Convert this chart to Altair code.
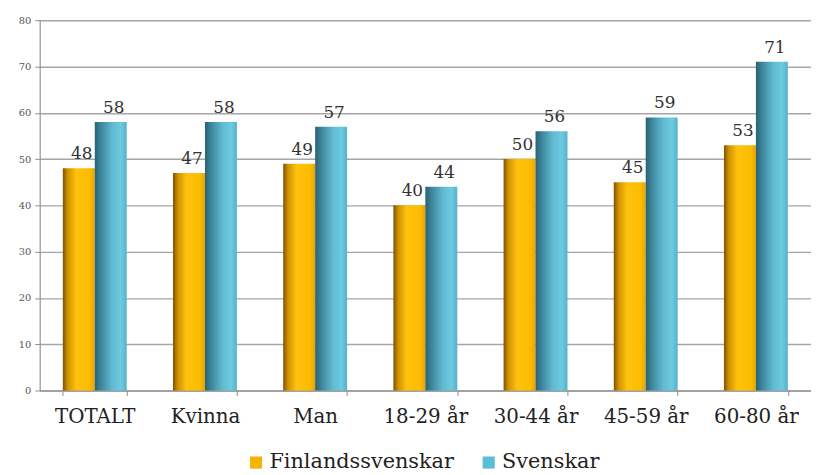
import altair as alt
import pandas as pd

categories = ["TOTALT", "Kvinna", "Man", "18-29 år", "30-44 år", "45-59 år", "60-80 år"]
series_names = ["Finlandssvenskar", "Svenskar"]
finlandssvenskar = [48, 47, 49, 40, 50, 45, 53]
svenskar = [58, 58, 57, 44, 56, 59, 71]
y_ticks = [0, 10, 20, 30, 40, 50, 60, 70, 80]

rows = []
for c, f, s in zip(categories, finlandssvenskar, svenskar):
    rows.append({"cat": c, "series": series_names[0], "value": f})
    rows.append({"cat": c, "series": series_names[1], "value": s})
df = pd.DataFrame(rows)

FONT = "DejaVu Serif"

grad_orange = alt.Gradient(
    gradient="linear", x1=0, x2=1, y1=0, y2=0,
    stops=[
        alt.GradientStop(color="#7e5200", offset=0),
        alt.GradientStop(color="#cf9200", offset=0.15),
        alt.GradientStop(color="#ffc20e", offset=0.42),
        alt.GradientStop(color="#fbbb00", offset=0.85),
        alt.GradientStop(color="#e3a400", offset=1),
    ],
)
grad_blue = alt.Gradient(
    gradient="linear", x1=0, x2=1, y1=0, y2=0,
    stops=[
        alt.GradientStop(color="#2a6172", offset=0),
        alt.GradientStop(color="#3d879c", offset=0.2),
        alt.GradientStop(color="#61bad2", offset=0.55),
        alt.GradientStop(color="#6ccae1", offset=0.82),
        alt.GradientStop(color="#57b2ca", offset=1),
    ],
)

x_enc = alt.X(
    "cat:N", sort=categories,
    scale=alt.Scale(paddingInner=0.42, paddingOuter=0.21),
    axis=alt.Axis(
        title=None, labelAngle=0, labelFont=FONT, labelFontSize=20,
        labelColor="#222", tickBand="extent", domainColor="#8c8c8c",
        tickColor="#8c8c8c", tickSize=5, labelPadding=11, grid=False,
    ),
)
xo_enc = alt.XOffset(
    "series:N", scale=alt.Scale(domain=series_names, paddingInner=0, paddingOuter=0)
)
y_enc = alt.Y(
    "value:Q",
    scale=alt.Scale(domain=[0, 80], nice=False),
    axis=alt.Axis(
        title=None, values=y_ticks, grid=True, gridColor="#a6a6a6",
        gridWidth=1.4, domainColor="#8c8c8c", tickColor="#8c8c8c",
        tickSize=5, labelFont=FONT, labelFontSize=10, labelColor="#555",
        labelPadding=4,
    ),
)

base = alt.Chart(df)

bars_f = base.transform_filter(
    alt.datum.series == series_names[0]
).mark_bar(color=grad_orange).encode(x=x_enc, xOffset=xo_enc, y=y_enc)

bars_s = base.transform_filter(
    alt.datum.series == series_names[1]
).mark_bar(color=grad_blue).encode(x=x_enc, xOffset=xo_enc, y=y_enc)

labels = base.mark_text(
    font=FONT, fontSize=17, color="#333", baseline="alphabetic", dy=-9, dx=3
).encode(x=x_enc, xOffset=xo_enc, y=y_enc, text="value:Q")

legend_layer = base.mark_square(size=0, opacity=0).encode(
    x=x_enc, xOffset=xo_enc, y=y_enc,
    color=alt.Color(
        "series:N",
        scale=alt.Scale(domain=series_names, range=["#f5b400", "#5bbdd6"]),
        legend=alt.Legend(
            title=None, orient="none", direction="horizontal",
            legendX=208, legendY=436, symbolType="square", symbolSize=150,
            symbolOpacity=1, symbolStrokeWidth=0, labelFont=FONT,
            labelFontSize=21, labelColor="#222", columnPadding=24,
            labelOffset=3, labelLimit=400,
        ),
    ),
)

chart = alt.layer(bars_f, bars_s, labels, legend_layer).properties(
    width=779, height=374,
    autosize=alt.AutoSizeParams(type="none"),
    padding={"left": 32, "top": 10, "right": 0, "bottom": 82},
).configure_view(stroke=None).configure(font=FONT)

chart.save("out.html", embed_options={"renderer": "svg", "actions": False})
